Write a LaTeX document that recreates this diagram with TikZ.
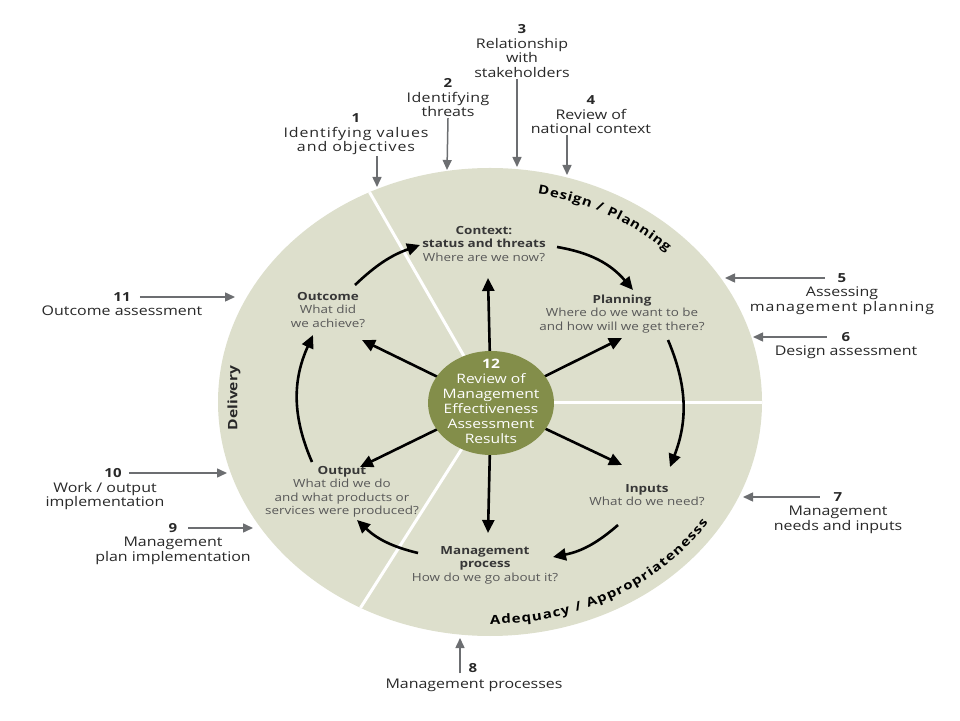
\documentclass[tikz,border=0pt]{standalone}
\usepackage{fontspec}
\setmainfont{Open Sans}[FakeStretch=1.2]
\usetikzlibrary{arrows.meta,positioning,decorations.text}
\definecolor{discfill}{RGB}{221,223,204}
\definecolor{hubgreen}{RGB}{131,142,74}
\definecolor{feedgray}{RGB}{108,110,113}
\definecolor{labelgray}{RGB}{40,40,40}
\definecolor{titlegray}{RGB}{55,55,55}
\definecolor{askgray}{RGB}{88,88,88}
\begin{document}
\begin{tikzpicture}
[x=1pt,y=1pt,%
  every node/.style={align=center,inner sep=1pt,text=labelgray},%
  num/.style={font=\fontsize{12.5}{15}\selectfont\bfseries},%
  lbl/.style={font=\fontsize{13.3}{14.8}\selectfont},%
  stage/.style={font=\fontsize{11.2}{13.5}\selectfont,text=askgray},%
  divider/.style={draw=white,line width=3pt},%
  cyc/.style={->,>={Triangle[length=13pt,width=12pt]},line width=2.6pt,bend left=#1},%
  spoke/.style={->,>={Triangle[length=13pt,width=12pt]},line width=2.6pt},%
  feed/.style={->,>={Triangle[length=10pt,width=9pt]},line width=1.5pt,draw=feedgray}]
\useasboundingbox (0,0) rectangle (960,720);
\fill[discfill] (490,318) ellipse [x radius=272,y radius=234];
\coordinate (hubc) at (491,317);
\begin{scope}
\clip (490,318) ellipse [x radius=272,y radius=234];
\draw[divider] (hubc) -- (355,553);
\draw[divider] (hubc) -- (780,317);
\draw[divider] (hubc) -- (340,80);
\end{scope}

\node[stage] (ctx) at (484,476) {\textbf{\color{titlegray}Context:}\\\textbf{\color{titlegray}status and threats}\\Where are we now?};
\node[stage] (plan) at (622,406) {\textbf{\color{titlegray}Planning}\\Where do we want to be\\and how will we get there?};
\node[stage] (inp) at (647,225) {\textbf{\color{titlegray}Inputs}\\What do we need?};
\node[stage] (proc) at (485,155) {\textbf{\color{titlegray}Management}\\\textbf{\color{titlegray}process}\\How do we go about it?};
\node[stage] (outp) at (342,228) {\textbf{\color{titlegray}Output}\\What did we do\\and what products or\\services were produced?};
\node[stage] (outc) at (328,410) {\textbf{\color{titlegray}Outcome}\\What did\\we achieve?};

\draw[spoke] (hubc) -- ([shift={(4,-34)}]ctx.center);
\draw[spoke] (hubc) -- ([shift={(0,-24)}]plan.center);
\draw[spoke] (hubc) -- ([shift={(-25,30)}]inp.center);
\draw[spoke] (hubc) -- ([shift={(3,32)}]proc.center);
\draw[spoke] (hubc) -- ([shift={(18,25)}]outp.center);
\draw[spoke] (hubc) -- ([shift={(34,-30)}]outc.center);
\fill[hubgreen] (hubc) ellipse [x radius=63,y radius=52];
\node[text=white,font=\fontsize{13}{15}\selectfont] (hub) at (491,319)
  {\textbf{12}\\Review of\\Management\\Effectiveness\\Assessment\\Results};

\draw[cyc=12] ([shift={(27,25)}]outc.center) to ([shift={(-64,-1)}]ctx.center);
\draw[cyc=20] ([shift={(73,-3)}]ctx.center) to ([shift={(11,24)}]plan.center);
\draw[cyc=22] ([shift={(46,-26)}]plan.center) to ([shift={(23,28)}]inp.center);
\draw[cyc=15] ([shift={(-29,-30)}]inp.center) to ([shift={(68,8)}]proc.center);
\draw[cyc=15] ([shift={(-67,12)}]proc.center) to ([shift={(15,-28)}]outp.center);
\draw[cyc=24] ([shift={(-30,30)}]outp.center) to ([shift={(-15,-25)}]outc.center);

\path[decorate,decoration={text along path,text align={fit to path},
  text={|\fontsize{12.5}{15}\selectfont\bfseries|Design / Planning}}]
  (490,318) ++(79:250 and 212) arc[start angle=79,end angle=45,x radius=250,y radius=212];
\path[decorate,decoration={text along path,text align={fit to path},
  text={|\fontsize{12.5}{15}\selectfont\bfseries|Adequacy / Appropriatenesss}}]
  (490,318) ++(-90:260 and 222) arc[start angle=-90,end angle=-33,x radius=260,y radius=222];
\node[rotate=90,font=\fontsize{13}{15}\selectfont\bfseries] (deliv) at (234,322) {Delivery};

\node[num] (n1) at (356,602) {1};
\node[lbl,below=2pt of n1] (t1) {\addfontfeature{LetterSpace=7}Identifying values\\\addfontfeature{LetterSpace=7}and objectives};
\node[num] (n2) at (448,637) {2};
\node[lbl,below=2pt of n2] (t2) {\addfontfeature{LetterSpace=3}Identifying\\threats};
\node[num] (n3) at (522,691) {3};
\node[lbl,below=2pt of n3] (t3) {Relationship\\with\\stakeholders};
\node[num] (n4) at (591,620) {4};
\node[lbl,below=2pt of n4] (t4) {Review of\\national context};
\node[num] (n5) at (842,442) {5};
\node[lbl,below=2pt of n5] (t5) {Assessing\\\addfontfeature{LetterSpace=7}management planning};
\node[num] (n6) at (846,383) {6};
\node[lbl,below=2pt of n6] (t6) {Design assessment};
\node[num] (n7) at (838,223) {7};
\node[lbl,below=2pt of n7] (t7) {Management\\needs and inputs};
\node[lbl] (t8) at (474,35) {Management processes};
\node[num] (n8) at (473,52) {8};
\node[num] (n9) at (173,192) {9};
\node[lbl,below=2pt of n9] (t9) {Management\\plan implementation};
\node[num] (n10) at (113,247) {10};
\node[lbl,below=2pt of n10,xshift=-8pt] (t10) {Work / output\\implementation};
\node[num] (n11) at (122,423) {11};
\node[lbl,below=2pt of n11] (t11) {Outcome assessment};

\coordinate (e1) at (377,533);
\coordinate (e2) at (447,550);
\coordinate (e3) at (517,553);
\coordinate (e4) at (567,545);
\coordinate (e5) at (725,442);
\coordinate (e6) at (753,383);
\coordinate (e7) at (743,223);
\coordinate (e8) at (460,82);
\coordinate (e9) at (253,192);
\coordinate (e10) at (227,247);
\coordinate (e11) at (235,423);
\draw[feed] ([xshift=21pt]t1.south) -- (e1);
\draw[feed] (t2.south) -- (e2);
\draw[feed] ([xshift=-5pt]t3.south) -- (e3);
\draw[feed] ([xshift=-24pt]t4.south) -- (e4);
\draw[feed] ([xshift=-12pt]n5.west) -- (e5);
\draw[feed] ([xshift=-14pt]n6.west) -- (e6);
\draw[feed] ([xshift=-13pt]n7.west) -- (e7);
\draw[feed] ([xshift=-14pt,yshift=4pt]t8.north) -- (e8);
\draw[feed] ([xshift=10pt]n9.east) -- (e9);
\draw[feed] ([xshift=6pt]n10.east) -- (e10);
\draw[feed] ([xshift=8pt]n11.east) -- (e11);
\end{tikzpicture}
\end{document}
